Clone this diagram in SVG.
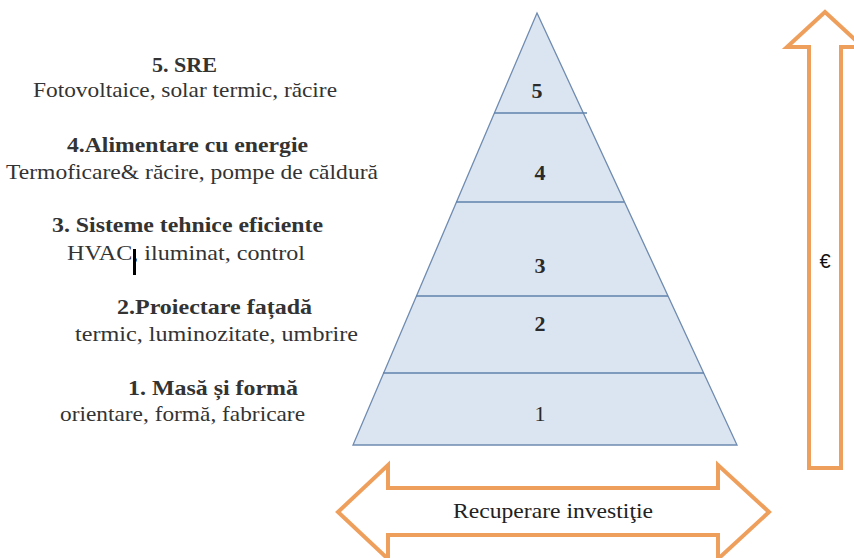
<svg xmlns="http://www.w3.org/2000/svg" width="854" height="558" viewBox="0 0 854 558">
<style>
.b{font-weight:bold}
.lvl{stroke:#5f82ad;stroke-width:1.3}
.arr{fill:#ffffff;stroke:#ef9f5c;stroke-width:4;stroke-linejoin:miter}
</style>
<rect width="854" height="558" fill="#ffffff"/>
<g id="labels" font-family="'Liberation Serif', 'Times New Roman', serif" font-size="22" fill="#333333">
<g id="label-5">
<text class="b" x="152" y="72" textLength="65" lengthAdjust="spacingAndGlyphs">5. SRE</text>
<text x="33" y="97" textLength="304" lengthAdjust="spacingAndGlyphs">Fotovoltaice, solar termic, răcire</text>
</g>
<g id="label-4">
<text class="b" x="67" y="152" textLength="241" lengthAdjust="spacingAndGlyphs">4.Alimentare cu energie</text>
<text x="6" y="179" textLength="372" lengthAdjust="spacingAndGlyphs">Termoficare&amp; răcire, pompe de căldură</text>
</g>
<g id="label-3">
<text class="b" x="52" y="232" textLength="271" lengthAdjust="spacingAndGlyphs">3. Sisteme tehnice eficiente</text>
<text x="67" y="260" textLength="238" lengthAdjust="spacingAndGlyphs">HVAC, iluminat, control</text>
<rect x="133" y="249" width="3" height="26" fill="#000000"/>
</g>
<g id="label-2">
<text class="b" x="117" y="314" textLength="195" lengthAdjust="spacingAndGlyphs">2.Proiectare fațadă</text>
<text x="75" y="341" textLength="283" lengthAdjust="spacingAndGlyphs">termic, luminozitate, umbrire</text>
</g>
<g id="label-1">
<text class="b" x="128" y="395" textLength="170" lengthAdjust="spacingAndGlyphs">1. Masă și formă</text>
<text x="60" y="421" textLength="245" lengthAdjust="spacingAndGlyphs">orientare, formă, fabricare</text>
</g>
</g>
<g id="pyramid">
<polygon points="537,13 737,445 353,445" fill="#dbe5f1" stroke="#6f8bb0" stroke-width="1.3"/>
<line class="lvl" x1="494" y1="113" x2="587" y2="113"/>
<line class="lvl" x1="456" y1="202" x2="624" y2="202"/>
<line class="lvl" x1="416" y1="296" x2="668" y2="296"/>
<line class="lvl" x1="383" y1="373" x2="704" y2="373"/>
<g font-family="'Liberation Serif', 'Times New Roman', serif" font-size="22" fill="#2a2a2a" text-anchor="middle">
<text class="b" x="537" y="98">5</text>
<text class="b" x="540" y="180">4</text>
<text class="b" x="540" y="273">3</text>
<text class="b" x="540" y="331">2</text>
<text x="540" y="421">1</text>
</g>
</g>
<g id="cost-arrow">
<polygon class="arr" points="825,12 863,47 841,47 841,468 809,468 809,47 787,47"/>
<text x="825" y="268" font-family="'Liberation Sans', Arial, sans-serif" font-size="20" fill="#111111" text-anchor="middle">€</text>
</g>
<g id="payback-arrow">
<polygon class="arr" points="338,512 388,465 388,488 718,488 718,465 769,512 718,559 718,535 388,535 388,559"/>
<text x="453" y="518" font-family="'Liberation Serif', 'Times New Roman', serif" font-size="22" fill="#222222" textLength="200" lengthAdjust="spacingAndGlyphs">Recuperare investiţie</text>
</g>
</svg>
